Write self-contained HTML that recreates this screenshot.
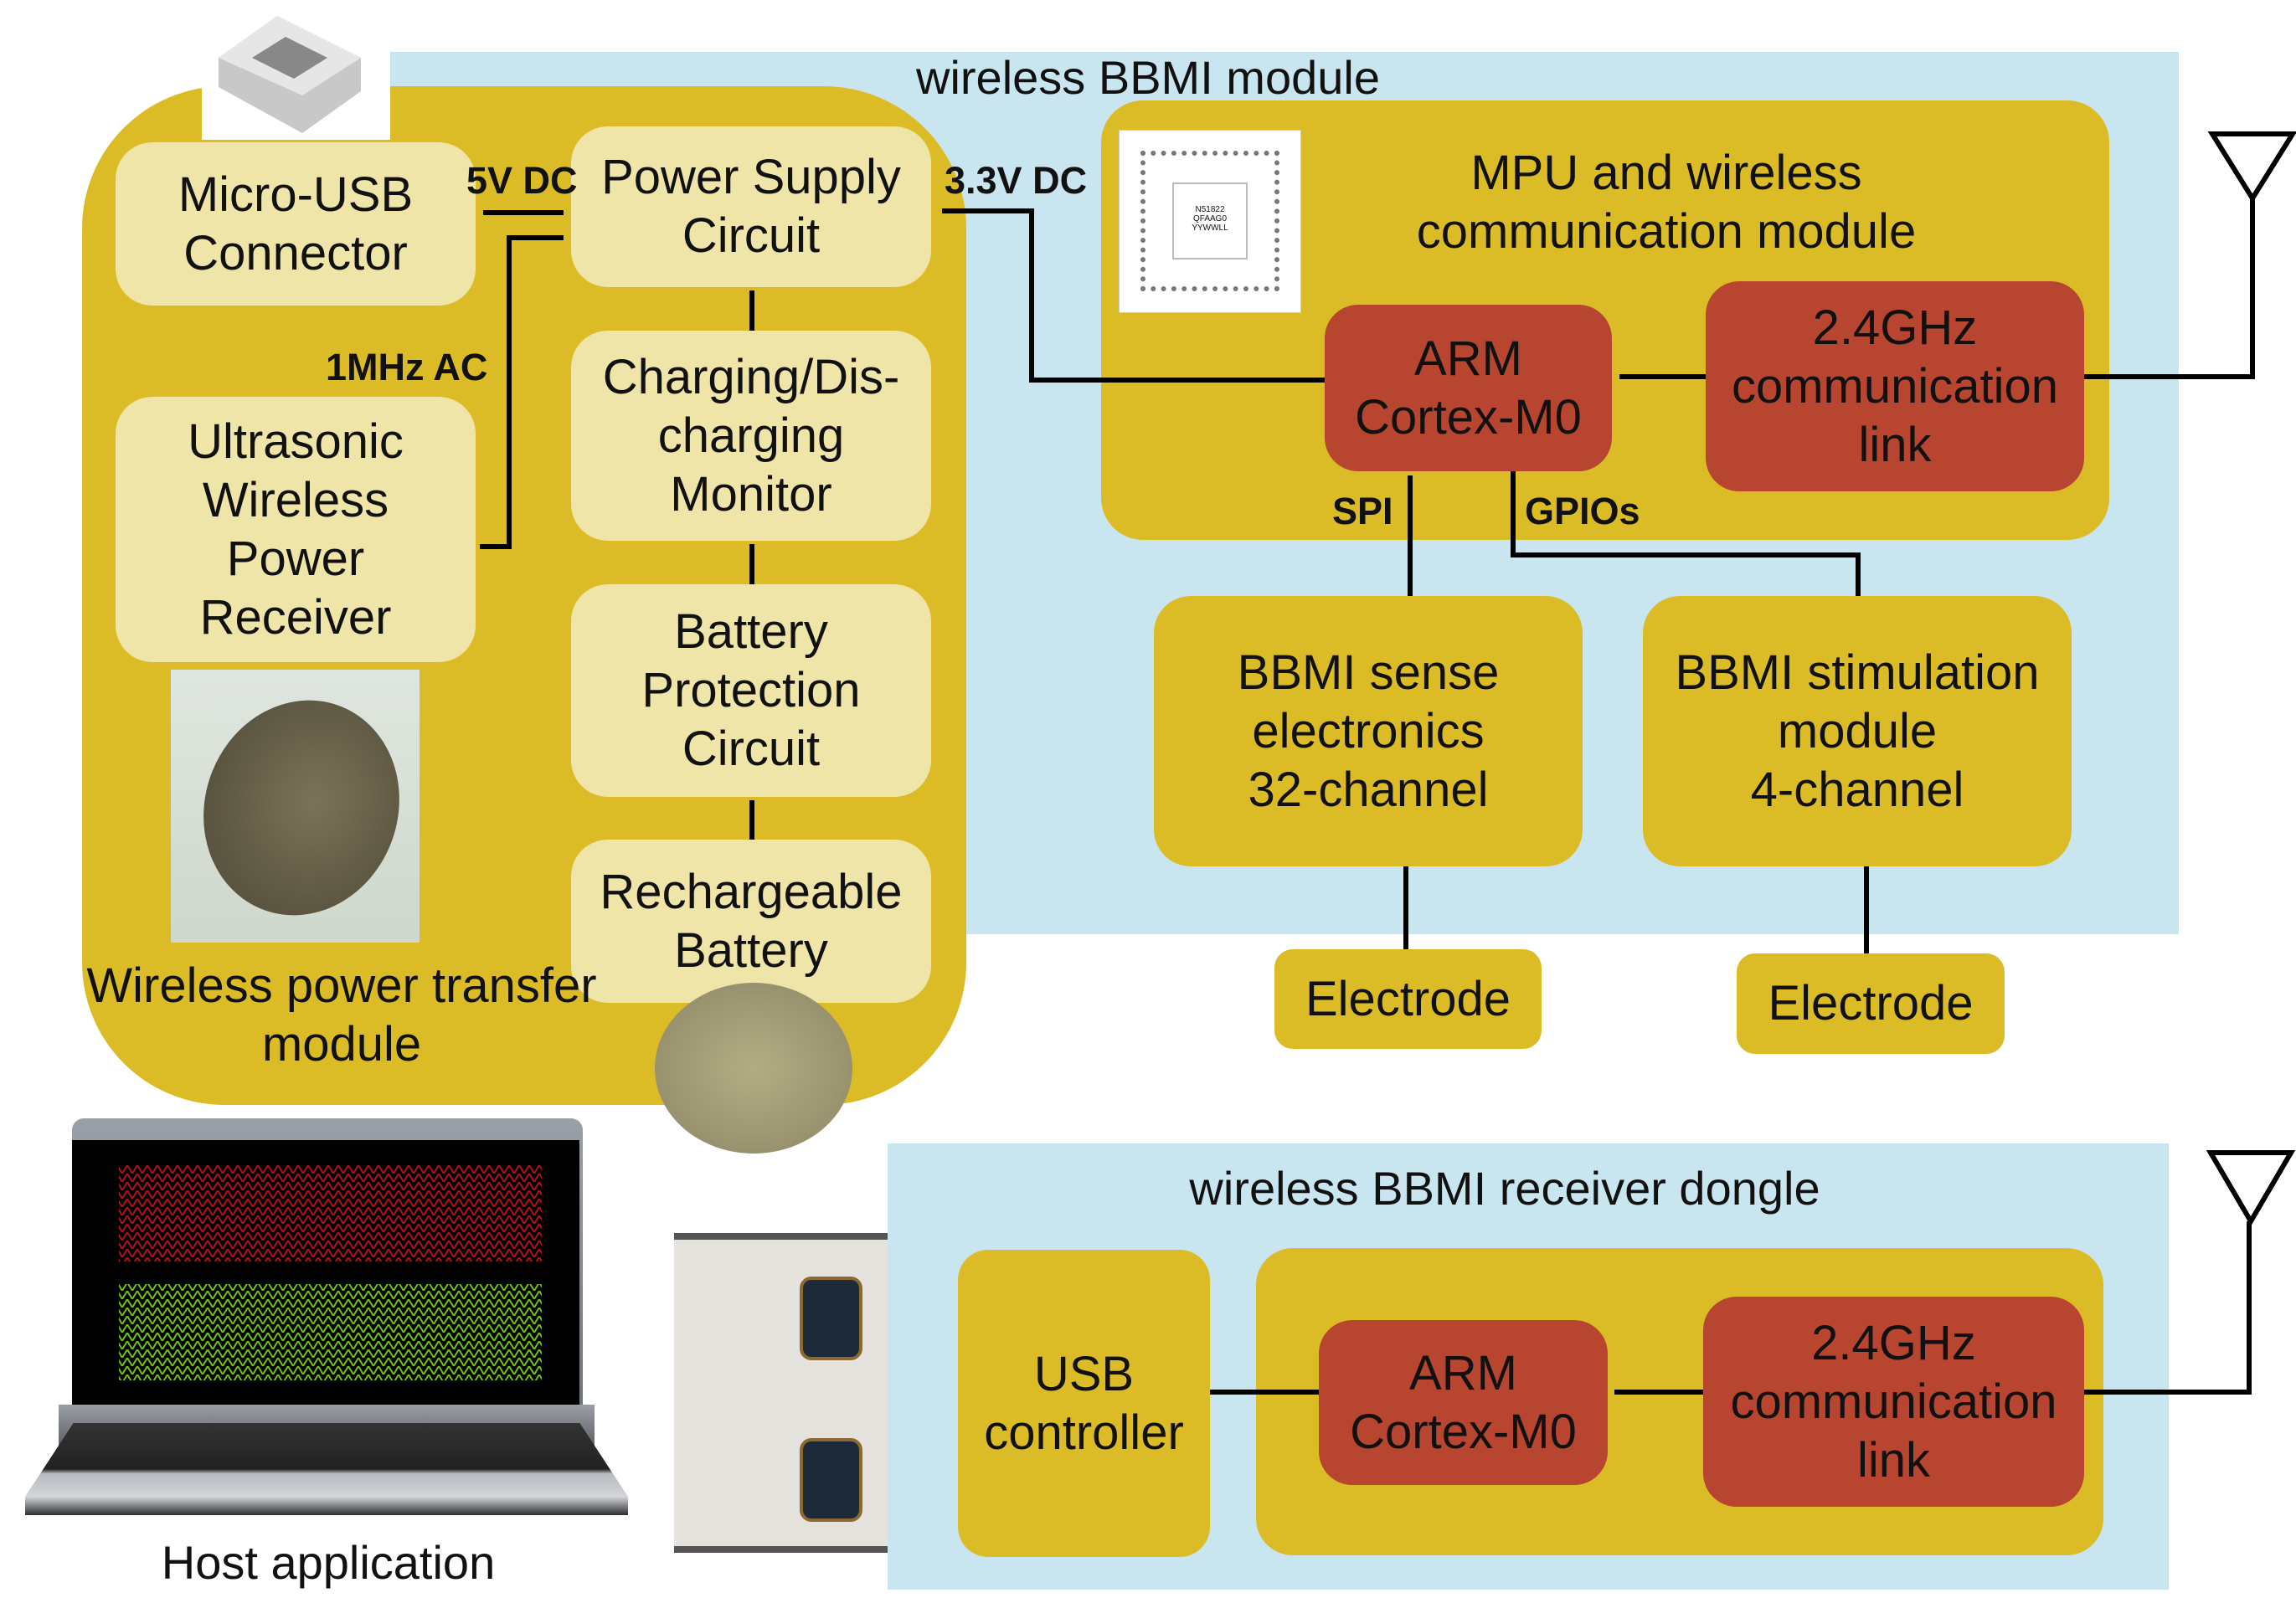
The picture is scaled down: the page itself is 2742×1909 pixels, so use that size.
<!DOCTYPE html>
<html><head><meta charset="utf-8"><style>
*{margin:0;padding:0;box-sizing:border-box}
body{width:2742px;height:1909px;background:#fff;position:relative;overflow:hidden;font-family:"Liberation Sans",Arial,sans-serif;color:#111}
.a{position:absolute}
.box{position:absolute;display:flex;align-items:center;justify-content:center;text-align:center;font-size:58px;line-height:70px}
.lt{background:#f0e5a8;border-radius:44px}
.y{background:#dcbc26;border-radius:44px}
.r{background:#b8452f;border-radius:40px}
.lbl{position:absolute;font-weight:bold;font-size:45px;white-space:nowrap}
.t{position:absolute;font-size:56px;text-align:center;white-space:nowrap;line-height:70px}
</style></head><body>
<div class="a" style="left:466px;top:62px;width:2136px;height:1054px;background:#c9e6f0"></div>
<div class="a" style="left:1060px;top:1366px;width:1530px;height:533px;background:#c9e6f0"></div>
<div class="a" style="left:98px;top:103px;width:1056px;height:1217px;background:#dcbc26;border-radius:170px"></div>
<div class="a" style="left:241px;top:9px;width:225px;height:158px;background:#fff"></div>
<svg class="a" style="left:241px;top:9px" width="225" height="158"><polygon points="20,60 90,10 190,60 190,100 120,150 20,95" fill="#c8c8c8"/><polygon points="20,60 90,10 190,60 120,105" fill="#e6e6e6"/><polygon points="60,60 100,35 150,60 110,85" fill="#888"/></svg>
<div class="t" style="left:0;width:2742px;top:58px">wireless BBMI module</div>
<div class="box lt" style="left:138px;top:170px;width:430px;height:195px">Micro-USB<br>Connector</div>
<div class="box lt" style="left:138px;top:474px;width:430px;height:317px">Ultrasonic<br>Wireless<br>Power<br>Receiver</div>
<div class="box lt" style="left:682px;top:151px;width:430px;height:192px">Power Supply<br>Circuit</div>
<div class="box lt" style="left:682px;top:395px;width:430px;height:251px">Charging/Dis-<br>charging<br>Monitor</div>
<div class="box lt" style="left:682px;top:698px;width:430px;height:254px">Battery<br>Protection<br>Circuit</div>
<div class="box lt" style="left:682px;top:1003px;width:430px;height:195px">Rechargeable<br>Battery</div>
<div class="a" style="left:204px;top:800px;width:297px;height:326px;background:linear-gradient(#dfe6df,#cfd8cc)"></div>
<div class="a" style="left:245px;top:835px;width:230px;height:260px;border-radius:50%;background:radial-gradient(ellipse at 55% 45%,#7a7358,#4d4836);transform:rotate(20deg)"></div>
<div class="t" style="left:98px;width:620px;top:1143px;font-size:58px">Wireless power transfer<br>module</div>
<div class="a" style="left:782px;top:1174px;width:236px;height:204px;border-radius:50%;background:radial-gradient(#b4ad83,#8d8666);"></div>
<div class="lbl" style="left:557px;top:190px">5V DC</div>
<div class="lbl" style="left:389px;top:413px">1MHz AC</div>
<div class="lbl" style="left:1128px;top:190px">3.3V DC</div>
<div class="a y" style="left:1315px;top:120px;width:1204px;height:525px;border-radius:50px;position:absolute"></div>
<div class="a" style="left:1336px;top:155px;width:218px;height:219px;background:#fff;border:1px solid #ccc"></div>
<div class="a" style="left:1362px;top:180px;width:166px;height:168px;border:6px dotted #777"></div>
<div class="a" style="left:1400px;top:218px;width:90px;height:92px;border:2px solid #bbb;font-size:10px;text-align:center;padding-top:25px">N51822<br>QFAAG0<br>YYWWLL</div>
<div class="t" style="left:1560px;width:860px;top:172px;font-size:58px">MPU and wireless<br>communication module</div>
<div class="box r" style="left:1582px;top:364px;width:343px;height:199px">ARM<br>Cortex-M0</div>
<div class="box r" style="left:2037px;top:336px;width:452px;height:251px">2.4GHz<br>communication<br>link</div>
<div class="lbl" style="left:1591px;top:585px">SPI</div>
<div class="lbl" style="left:1821px;top:585px">GPIOs</div>
<div class="box y" style="left:1378px;top:712px;width:512px;height:323px">BBMI sense<br>electronics<br>32-channel</div>
<div class="box y" style="left:1962px;top:712px;width:512px;height:323px">BBMI stimulation<br>module<br>4-channel</div>
<div class="box y" style="left:1522px;top:1134px;width:319px;height:119px;border-radius:22px">Electrode</div>
<div class="box y" style="left:2074px;top:1139px;width:320px;height:120px;border-radius:22px">Electrode</div>
<div class="t" style="left:1060px;width:1474px;top:1385px">wireless BBMI receiver dongle</div>
<div class="box y" style="left:1144px;top:1493px;width:301px;height:367px;border-radius:36px">USB<br>controller</div>
<div class="a y" style="left:1500px;top:1491px;width:1012px;height:367px;border-radius:44px;position:absolute"></div>
<div class="box r" style="left:1575px;top:1577px;width:345px;height:197px">ARM<br>Cortex-M0</div>
<div class="box r" style="left:2034px;top:1549px;width:455px;height:251px">2.4GHz<br>communication<br>link</div>
<div class="a" style="left:805px;top:1473px;width:255px;height:382px;background:#e6e3df;border-top:8px solid #555;border-bottom:8px solid #555"></div>
<div class="a" style="left:955px;top:1525px;width:75px;height:100px;background:#1e2a3a;border-radius:14px;border:4px solid #8a6a30"></div>
<div class="a" style="left:955px;top:1718px;width:75px;height:100px;background:#1e2a3a;border-radius:14px;border:4px solid #8a6a30"></div>
<div class="a" style="left:86px;top:1336px;width:610px;height:360px;background:linear-gradient(#9aa0a8,#6e737a);border-radius:14px 14px 0 0"></div>
<div class="a" style="left:86px;top:1362px;width:606px;height:316px;background:#000"></div>
<svg class="a" style="left:86px;top:1362px" width="606" height="316">
<defs><pattern id="pr" width="12" height="10" patternUnits="userSpaceOnUse"><path d="M0,10 L6,0 L12,10" stroke="#b0121b" stroke-width="2" fill="none"/></pattern>
<pattern id="pg" width="12" height="10" patternUnits="userSpaceOnUse"><path d="M0,10 L6,0 L12,10" stroke="#6fbf1a" stroke-width="2" fill="none"/></pattern></defs>
<rect x="56" y="30" width="505" height="115" fill="url(#pr)"/>
<rect x="56" y="172" width="505" height="115" fill="url(#pg)"/>
</svg>
<div class="a" style="left:70px;top:1678px;width:640px;height:80px;background:linear-gradient(#9a9ea5,#3a3c40)"></div>
<div class="a" style="left:30px;top:1700px;width:720px;height:110px;background:linear-gradient(#333,#222 50%,#b7bbc0 55%,#d3d5d8 80%,#2b2c2e);clip-path:polygon(8% 0,92% 0,100% 80%,100% 100%,0 100%,0 80%)"></div>
<div class="t" style="left:92px;width:600px;top:1832px;font-size:56px">Host application</div>
<svg class="a" style="left:0;top:0" width="2742" height="1909" fill="none" stroke="#000" stroke-width="6">
<path d="M577,254 H673"/>
<path d="M573,653 H608 V284 H673"/>
<path d="M898,347 V395 M898,650 V698 M898,956 V1003"/>
<path d="M1125,252 H1232 V454 H1582"/>
<path d="M1934,450 H2037"/>
<path d="M2489,450 H2690 V237"/>
<polygon points="2642,160 2738,160 2690,237"/>
<path d="M1684,568 V712"/>
<path d="M1807,563 V663 H2219 V712"/>
<path d="M1679,1035 V1134"/>
<path d="M2229,1035 V1139"/>
<path d="M1445,1663 H1575 M1928,1663 H2034 M2489,1663 H2686 V1459"/>
<polygon points="2640,1377 2736,1377 2688,1459"/>
</svg>
</body></html>
